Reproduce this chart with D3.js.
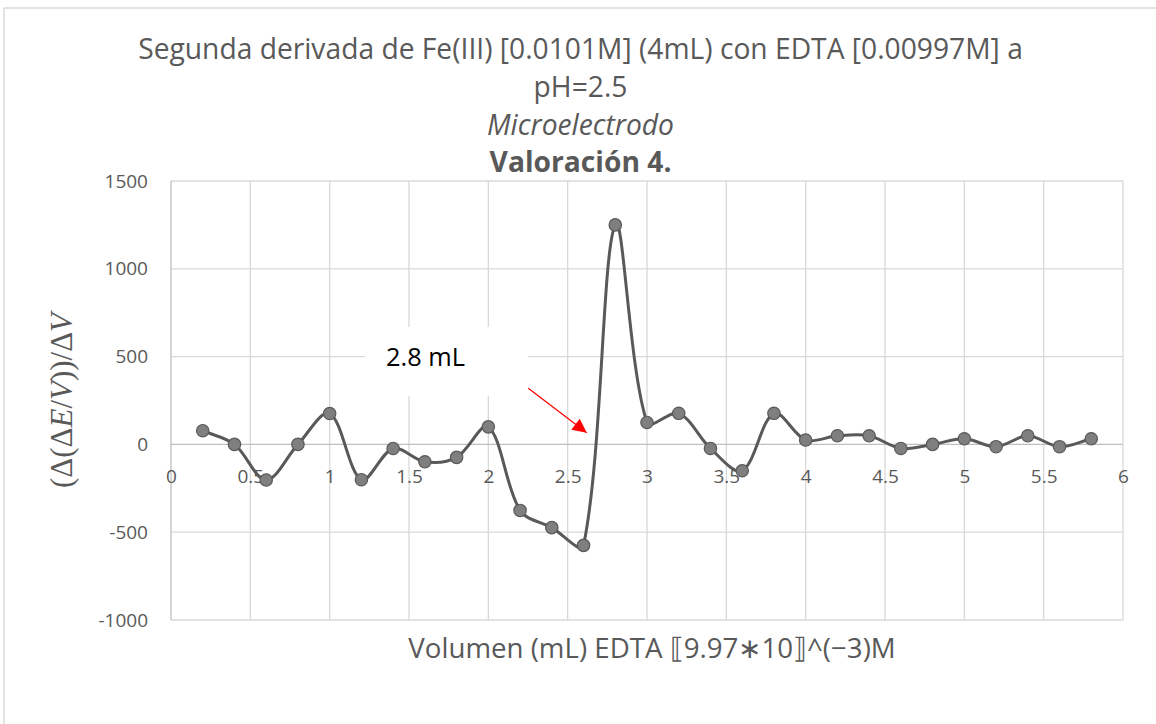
<!DOCTYPE html>
<html>
<head>
<meta charset="utf-8">
<script src="https://cdn.jsdelivr.net/npm/d3@7"></script>
<style>
  html, body { margin: 0; padding: 0; background: #fff; }
  svg { display: block; }
</style>
</head>
<body>
<svg id="chart" width="1156" height="724"></svg>
<script>
// Titrant volume (mL) and second derivative of the potential
const volumes = [0.2, 0.4, 0.6, 0.8, 1.0, 1.2, 1.4, 1.6, 1.8, 2.0,
                 2.2, 2.4, 2.6, 2.8, 3.0, 3.2, 3.4, 3.6, 3.8, 4.0,
                 4.2, 4.4, 4.6, 4.8, 5.0, 5.2, 5.4, 5.6, 5.8];
const secondDerivative = [78, 0, -203, 0, 176, -201, -23, -99, -74, 100,
                          -376, -474, -575, 1250, 125, 177, -23, -150, 177, 25,
                          49, 49, -23, 0, 32, -13, 49, -13, 32];

const xTickValues = [0, 0.5, 1, 1.5, 2, 2.5, 3, 3.5, 4, 4.5, 5, 5.5, 6];
const yTickValues = [-1000, -500, 0, 500, 1000, 1500];

const titleLines = [
  { text: "Segunda derivada de Fe(III) [0.0101M] (4mL) con EDTA [0.00997M] a", style: "normal", weight: "normal" },
  { text: "pH=2.5", style: "normal", weight: "normal" },
  { text: "Microelectrodo", style: "italic", weight: "normal" },
  { text: "Valoración 4.", style: "normal", weight: "bold" }
];
const xAxisTitle = "Volumen (mL) EDTA \u27E69.97\u221710\u27E7^(\u22123)M";
const yAxisTitleParts = [
  { t: "(\u0394(\u0394", italic: false },
  { t: "E", italic: true },
  { t: "/", italic: false },
  { t: "V", italic: true },
  { t: "))/\u0394", italic: false },
  { t: "V", italic: true }
];
const annotationText = "2.8 mL";

const svg = d3.select("#chart");
const FONT = "'Open Sans', 'Noto Sans', sans-serif";
const TEXT_GREY = "#595959";
const GRID = "#d9d9d9";
const AXIS = "#bfbfbf";

// Resize a text element so it spans the given width
function fitWidth(sel, width) {
  const w = sel.node().getComputedTextLength();
  const fs = parseFloat(sel.attr("font-size"));
  sel.attr("font-size", fs * width / w);
  return fs * width / w;
}

// Spreadsheet-style smoothed line: cubic Bezier segments whose tangents are
// weighted by the lengths of the neighbouring chords.
function SmoothChord(context) { this._context = context; }
SmoothChord.prototype = {
  areaStart() {}, areaEnd() {},
  lineStart() { this._pts = []; },
  point(px, py) { this._pts.push([+px, +py]); },
  lineEnd() {
    const p = this._pts, c = this._context, n = p.length;
    if (!n) return;
    const dist = (a, b) => Math.hypot(b[0] - a[0], b[1] - a[1]);
    c.moveTo(p[0][0], p[0][1]);
    for (let i = 0; i < n - 1; i++) {
      const p0 = p[i - 1] || p[i], p1 = p[i], p2 = p[i + 1], p3 = p[i + 2] || p[i + 1];
      const d01 = dist(p0, p1), d12 = dist(p1, p2), d23 = dist(p2, p3);
      const f1 = (d01 + d12) > 0 ? d12 / (d01 + d12) : 0;
      const f2 = (d12 + d23) > 0 ? d12 / (d12 + d23) : 0;
      const c1x = p1[0] + (p2[0] - p0[0]) * f1 / 3, c1y = p1[1] + (p2[1] - p0[1]) * f1 / 3;
      const c2x = p2[0] - (p3[0] - p1[0]) * f2 / 3, c2y = p2[1] - (p3[1] - p1[1]) * f2 / 3;
      c.bezierCurveTo(c1x, c1y, c2x, c2y, p2[0], p2[1]);
    }
  }
};
const curveSmoothChord = context => new SmoothChord(context);

// Chart frame (top and left edges)
svg.append("line").attr("x1", 4).attr("x2", 1156).attr("y1", 8).attr("y2", 8)
  .attr("stroke", GRID).attr("stroke-width", 1.5);
svg.append("line").attr("x1", 4).attr("x2", 4).attr("y1", 8).attr("y2", 724)
  .attr("stroke", GRID).attr("stroke-width", 1.5);

const x = d3.scaleLinear().domain([0, 6]).range([171, 1123]);
const y = d3.scaleLinear().domain([-1000, 1500]).range([620, 181]);

// Gridlines
const grid = svg.append("g");
grid.selectAll("line.v").data(xTickValues.filter(d => d > 0)).join("line")
  .attr("x1", d => x(d)).attr("x2", d => x(d))
  .attr("y1", y(1500)).attr("y2", y(-1000))
  .attr("stroke", GRID).attr("stroke-width", 1.3);
grid.selectAll("line.h").data(yTickValues.filter(d => d !== 0)).join("line")
  .attr("x1", x(0)).attr("x2", x(6))
  .attr("y1", d => y(d)).attr("y2", d => y(d))
  .attr("stroke", GRID).attr("stroke-width", 1.3);

// Axis lines
svg.append("line").attr("x1", x(0)).attr("x2", x(0)).attr("y1", y(1500)).attr("y2", y(-1000))
  .attr("stroke", AXIS).attr("stroke-width", 1.3);
svg.append("line").attr("x1", x(0)).attr("x2", x(6)).attr("y1", y(0)).attr("y2", y(0))
  .attr("stroke", AXIS).attr("stroke-width", 1.3);

// Tick labels
const fmt = d => String(d);
const xAxis = svg.append("g").attr("transform", `translate(0,${y(0)})`)
  .call(d3.axisBottom(x).tickValues(xTickValues).tickFormat(fmt).tickSize(0).tickPadding(25));
xAxis.select(".domain").remove();
xAxis.selectAll("text").attr("fill", TEXT_GREY).attr("font-family", FONT).attr("font-size", 19);

const yAxis = svg.append("g").attr("transform", `translate(${x(0)},0)`)
  .call(d3.axisLeft(y).tickValues(yTickValues).tickFormat(fmt).tickSize(0).tickPadding(23));
yAxis.select(".domain").remove();
yAxis.selectAll("text").attr("fill", TEXT_GREY).attr("font-family", FONT).attr("font-size", 19);

// Title block
const titleY = [59, 97, 135, 172];
let titleSize = 22;
titleLines.forEach((ln, i) => {
  const t = svg.append("text")
    .attr("x", 580.5).attr("y", titleY[i])
    .attr("text-anchor", "middle")
    .attr("font-family", FONT)
    .attr("font-size", titleSize)
    .attr("font-style", ln.style)
    .attr("font-weight", ln.weight)
    .attr("fill", TEXT_GREY)
    .text(ln.text);
  if (i === 0) titleSize = fitWidth(t, 885);
});

// Axis titles
const xt = svg.append("text")
  .attr("x", 652).attr("y", 658)
  .attr("text-anchor", "middle")
  .attr("font-family", FONT).attr("font-size", 22)
  .attr("fill", TEXT_GREY)
  .text(xAxisTitle);
fitWidth(xt, 487);

const yt = svg.append("text")
  .attr("transform", "translate(72,400.5) rotate(-90)")
  .attr("text-anchor", "middle")
  .attr("font-family", "'Liberation Serif', 'DejaVu Serif', serif")
  .attr("font-size", 26)
  .attr("fill", TEXT_GREY);
yt.selectAll("tspan").data(yAxisTitleParts).join("tspan")
  .attr("font-style", d => d.italic ? "italic" : "normal")
  .text(d => d.t);
fitWidth(yt, 175);

// Annotation label box
svg.append("rect").attr("x", 365).attr("y", 327).attr("width", 163).attr("height", 69)
  .attr("fill", "#fff");
const at = svg.append("text")
  .attr("x", 425.5).attr("y", 366)
  .attr("text-anchor", "middle")
  .attr("font-family", FONT).attr("font-size", 26)
  .attr("fill", "#000")
  .text(annotationText);
fitWidth(at, 79);

// Series line (smoothed) and markers
const pts = volumes.map((v, i) => [v, secondDerivative[i]]);
const line = d3.line()
  .x(d => x(d[0])).y(d => y(d[1]))
  .curve(curveSmoothChord);
svg.append("path").datum(pts)
  .attr("d", line)
  .attr("fill", "none")
  .attr("stroke", "#595959")
  .attr("stroke-width", 3)
  .attr("stroke-linejoin", "round");
svg.append("g").selectAll("circle").data(pts).join("circle")
  .attr("cx", d => x(d[0])).attr("cy", d => y(d[1]))
  .attr("r", 6.2)
  .attr("fill", "#7f7f7f")
  .attr("stroke", "#595959")
  .attr("stroke-width", 1.2);

// Red arrow pointing at the steep rise
const defs = svg.append("defs");
defs.append("marker")
  .attr("id", "arrowHead")
  .attr("viewBox", "0 0 10 10")
  .attr("refX", 10).attr("refY", 5)
  .attr("markerUnits", "userSpaceOnUse")
  .attr("markerWidth", 18).attr("markerHeight", 14)
  .attr("orient", "auto")
  .append("path").attr("d", "M0,0 L10,5 L0,10 Z").attr("fill", "#ff0000");
svg.append("line")
  .attr("x1", 528.3).attr("y1", 388.3)
  .attr("x2", 586.7).attr("y2", 432.7)
  .attr("stroke", "#ff0000").attr("stroke-width", 1.3)
  .attr("marker-end", "url(#arrowHead)");
</script>
</body>
</html>
